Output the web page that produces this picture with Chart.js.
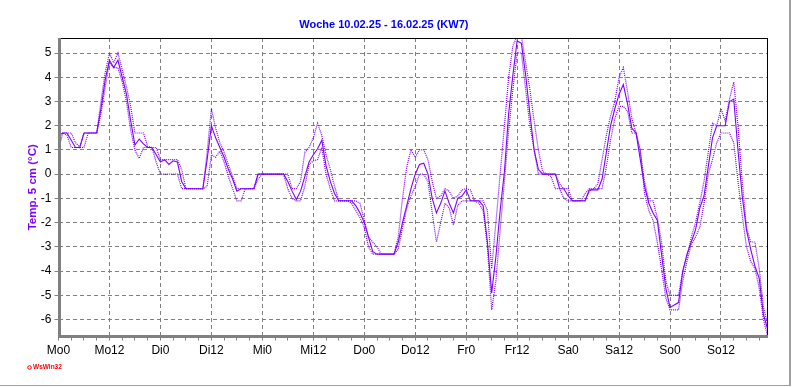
<!DOCTYPE html>
<html lang="de">
<head>
<meta charset="utf-8">
<title>Temp. 5 cm - KW7</title>
<script src="https://cdn.jsdelivr.net/npm/chart.js@4.4.1/dist/chart.umd.min.js"></script>
<style>
    html, body { margin: 0; padding: 0; background: #fff; }
    canvas { display: block; }
</style>
</head>
<body>
<canvas id="wsChart" width="792" height="387"></canvas>
<script>
// Texte
const TITLE = 'Woche 10.02.25 - 16.02.25 (KW7)';
const Y_TITLE = 'Temp. 5 cm (°C)';
const DAY_LABELS = ['Mo0', 'Mo12', 'Di0', 'Di12', 'Mi0', 'Mi12', 'Do0', 'Do12', 'Fr0', 'Fr12', 'Sa0', 'Sa12', 'So0', 'So12'];
const Y_TICKS = [-6, -5, -4, -3, -2, -1, 0, 1, 2, 3, 4, 5];

// Stunden seit Mo 0 Uhr
const HOURS = Array.from({ length: 168 }, (_, i) => i);
const TICK_HOURS = Array.from({ length: 56 }, (_, i) => i * 3);

// Temperatur 5 cm (Mittel)
const TEMP_AVG = [
    1.6, 1.7, 1.7, 1.4, 1.1, 1.1, 1.7, 1.7, 1.7, 1.7,
    2.7, 3.9, 4.7, 4.4, 4.7, 4.0, 3.3, 2.2, 1.2, 1.45,
    1.25, 1.1, 1.1, 0.8, 0.5, 0.6, 0.4, 0.55, 0.5, -0.3,
    -0.6, -0.6, -0.6, -0.6, -0.6, 0.6, 2.0, 1.5, 1.1, 0.7,
    0.2, -0.2, -0.7, -0.6, -0.6, -0.6, -0.6, 0.0, 0.0, 0.0,
    0.0, 0.0, 0.0, 0.0, -0.3, -0.7, -1.05, -0.7, -0.1, 0.5,
    0.8, 1.05, 1.4, 0.35, -0.3, -0.8, -1.1, -1.1, -1.1, -1.1,
    -1.3, -1.6, -2.0, -2.6, -3.2, -3.3, -3.3, -3.3, -3.3, -3.3,
    -2.8, -2.0, -1.3, -0.6, 0.0, 0.4, 0.45, 0.0, -1.0, -1.6,
    -1.2, -0.7, -1.2, -1.6, -1.0, -0.9, -0.65, -1.1, -1.1, -1.1,
    -1.3, -2.8, -4.9, -3.4, -1.5, 0.1, 2.5, 4.1, 5.5, 5.4,
    4.1, 2.5, 1.0, 0.2, 0.0, 0.0, 0.0, 0.0, -0.6, -0.6,
    -0.9, -1.1, -1.1, -1.1, -1.1, -0.65, -0.65, -0.65, -0.2, 0.9,
    2.0, 2.7, 3.3, 3.7, 2.9, 1.9, 1.7, 0.6, -0.5, -1.2,
    -1.6, -1.9, -3.3, -4.7, -5.5, -5.4, -5.3, -4.0, -3.3, -2.8,
    -2.3, -1.4, -0.9, 0.3, 1.5, 2.0, 2.0, 2.0, 3.0, 3.1,
    1.0, -0.9, -2.3, -3.1, -3.8, -4.3, -5.8, -6.4
];

// Maximum je Stunde
const TEMP_MAX = [
    1.6, 1.7, 1.7, 1.7, 1.3, 1.1, 1.7, 1.7, 1.7, 1.7,
    3.0, 4.2, 5.0, 4.6, 5.0, 4.3, 3.6, 2.8, 1.7, 1.7,
    1.7, 1.15, 1.1, 1.1, 0.6, 0.6, 0.6, 0.6, 0.6, 0.2,
    -0.6, -0.6, -0.6, -0.6, -0.6, 0.9, 2.7, 1.9, 1.3, 0.9,
    0.4, -0.1, -0.6, -0.6, -0.6, -0.6, -0.6, 0.0, 0.0, 0.0,
    0.0, 0.0, 0.0, 0.0, 0.0, -0.6, -0.6, -0.3, 0.9, 1.1,
    1.5, 2.1, 1.6, 0.8, 0.2, -0.5, -1.1, -1.1, -1.1, -1.1,
    -1.1, -1.2, -1.9, -2.6, -2.8, -3.0, -3.3, -3.3, -3.3, -3.3,
    -2.6, -1.0, 0.3, 1.0, 0.7, 1.0, 1.0, 0.6, -0.3, -1.0,
    -0.9, -0.6, -0.7, -1.0, -0.9, -0.65, -0.6, -0.65, -1.1, -1.1,
    -1.1, -1.5, -3.9, -2.0, 0.0, 2.0, 4.0, 5.3, 5.7, 5.7,
    4.6, 3.5, 2.2, 1.0, 0.1, 0.0, 0.0, 0.0, -0.4, -0.6,
    -0.6, -1.1, -1.1, -1.1, -0.8, -0.6, -0.6, -0.4, 0.6, 1.6,
    2.4, 3.0, 4.0, 4.4, 3.4, 2.3, 1.7, 0.9, -0.3, -1.1,
    -1.1, -1.8, -2.8, -4.4, -5.0, -5.0, -5.0, -4.0, -3.4, -2.6,
    -2.0, -1.2, -0.3, 0.9, 2.1, 2.0, 2.7, 2.2, 3.1, 3.8,
    2.0, -0.3, -2.2, -2.8, -2.8, -3.9, -5.5, -6.2
];

// Minimum je Stunde
const TEMP_MIN = [
    1.0, 1.7, 1.6, 1.1, 1.1, 1.1, 1.1, 1.7, 1.7, 1.7,
    2.5, 3.6, 4.6, 4.4, 4.4, 3.8, 3.0, 1.8, 1.0, 0.65,
    1.1, 1.1, 1.1, 0.5, 0.0, 0.0, 0.0, 0.0, 0.0, -0.6,
    -0.6, -0.6, -0.6, -0.6, -0.6, -0.5, 0.8, 0.7, 0.95, 0.5,
    -0.1, -0.6, -1.1, -1.1, -0.6, -0.6, -0.6, -0.2, 0.0, 0.0,
    0.0, 0.0, 0.0, 0.0, -0.6, -1.0, -1.1, -1.1, -0.5, 0.4,
    0.55, 0.6, 1.1, 0.0, -0.6, -1.1, -1.1, -1.1, -1.1, -1.2,
    -1.5, -1.8, -2.2, -3.0, -3.3, -3.3, -3.3, -3.3, -3.3, -3.3,
    -3.1, -2.2, -1.4, -0.9, -0.5, 0.0, 0.0, -0.3, -1.6, -2.8,
    -2.0, -1.2, -1.4, -2.1, -1.3, -1.1, -1.1, -1.1, -1.1, -1.2,
    -1.5, -3.0, -5.6, -4.4, -2.3, -0.3, 1.8, 3.5, 5.0, 5.0,
    3.5, 2.0, 1.0, 0.0, 0.0, 0.0, -0.1, -0.6, -0.6, -1.0,
    -1.1, -1.1, -1.1, -1.1, -1.1, -0.7, -0.6, -0.6, -0.6, 0.3,
    1.4, 2.3, 2.8, 2.8, 2.6, 1.7, 1.7, 1.0, -0.8, -1.5,
    -1.9, -2.8, -3.9, -5.1, -5.6, -5.6, -5.6, -4.4, -3.6, -2.9,
    -2.6, -2.2, -1.2, 0.0, 0.6, 1.3, 1.7, 1.7, 1.7, 1.3,
    -0.3, -1.7, -3.0, -3.6, -3.9, -4.7, -6.0, -6.7
];

const PURPLE = '#8000ff';
const GRID = '#808080';
const FONT = '"Liberation Sans", Arial, sans-serif';

// Rahmen, Achsen und Logo
const framePlugin = {
    id: 'frame',
    beforeDraw(chart) {
        const ctx = chart.ctx;
        ctx.save();
        ctx.fillStyle = '#fff';
        ctx.fillRect(0, 0, chart.width, chart.height);
        ctx.restore();
    },
    afterDraw(chart) {
        const { ctx, chartArea: a } = chart;
        const l = Math.round(a.left), r = Math.round(a.right);
        const t = Math.round(a.top), b = Math.round(a.bottom);
        ctx.save();
        ctx.fillStyle = '#000';
        ctx.fillRect(l, t, r - l, 1);
        ctx.fillRect(r - 1, t, 1, b - t);
        ctx.fillStyle = GRID;
        ctx.fillRect(l - 1, t, 3, b - t + 1);
        ctx.fillRect(l - 1, b - 2, r - l + 1, 3);
        // Fensterrand
        ctx.fillStyle = '#a0a0a0';
        ctx.fillRect(789, 0, 2, 386);
        ctx.fillRect(0, 385, 791, 1);
        // WsWin32
        ctx.strokeStyle = '#ff0000';
        ctx.lineWidth = 1;
        ctx.beginPath();
        ctx.arc(29.5, 367.5, 1.8, 0, Math.PI * 2);
        ctx.stroke();
        ctx.fillStyle = '#ff0000';
        ctx.font = 'bold 6.5px ' + FONT;
        ctx.textBaseline = 'middle';
        ctx.fillText('WsWin32', 33, 367.5);
        ctx.restore();
    }
};

const ctx = document.getElementById('wsChart').getContext('2d');
new Chart(ctx, {
    type: 'line',
    data: {
        labels: HOURS,
        datasets: [
            { data: TEMP_AVG, borderColor: PURPLE, borderWidth: 1.1 },
            { data: TEMP_MAX, borderColor: PURPLE, borderWidth: 1.2, borderDash: [1, 1] },
            { data: TEMP_MIN, borderColor: PURPLE, borderWidth: 1.2, borderDash: [1, 1] }
        ]
    },
    options: {
        responsive: false,
        animation: false,
        devicePixelRatio: 1,
        elements: {
            point: { radius: 0 },
            line: { tension: 0, fill: false }
        },
        layout: { padding: { left: 0, right: 24.3, top: 0, bottom: 0 } },
        plugins: {
            legend: { display: false },
            tooltip: { enabled: false },
            title: {
                display: true,
                text: TITLE,
                color: '#0000ff',
                font: { family: FONT, size: 11, weight: 'bold', lineHeight: 1.2 },
                padding: { top: 18, bottom: 6.8 }
            }
        },
        scales: {
            x: {
                type: 'linear',
                min: 0,
                max: 167,
                afterBuildTicks: scale => { scale.ticks = TICK_HOURS.map(v => ({ value: v })); },
                afterFit: scale => { scale.height = 50.5; },
                ticks: {
                    autoSkip: false,
                    maxRotation: 0,
                    minRotation: 0,
                    padding: 3,
                    color: '#000',
                    font: { family: FONT, size: 12 },
                    callback: v => (v % 12 === 0 ? DAY_LABELS[v / 12] : '')
                },
                grid: {
                    color: c => (c.tick && c.tick.value % 12 === 0 ? GRID : 'rgba(0,0,0,0)'),
                    tickColor: GRID,
                    tickLength: 4,
                    lineWidth: 1
                },
                border: { display: false, dash: [4, 3] }
            },
            y: {
                type: 'linear',
                min: -6.7,
                max: 5.62,
                afterBuildTicks: scale => { scale.ticks = Y_TICKS.map(v => ({ value: v })); },
                afterFit: scale => { scale.width = 58.5; },
                ticks: {
                    padding: 3,
                    color: '#000',
                    font: { family: FONT, size: 12 }
                },
                grid: {
                    color: GRID,
                    tickColor: GRID,
                    tickLength: 4,
                    lineWidth: 1
                },
                border: { display: false, dash: [4, 3] },
                title: {
                    display: true,
                    text: Y_TITLE,
                    color: PURPLE,
                    font: { family: FONT, size: 11.5, weight: 'bold', lineHeight: 1.2 },
                    padding: { top: 26, bottom: 0 }
                }
            }
        }
    },
    plugins: [framePlugin]
});
</script>
</body>
</html>
